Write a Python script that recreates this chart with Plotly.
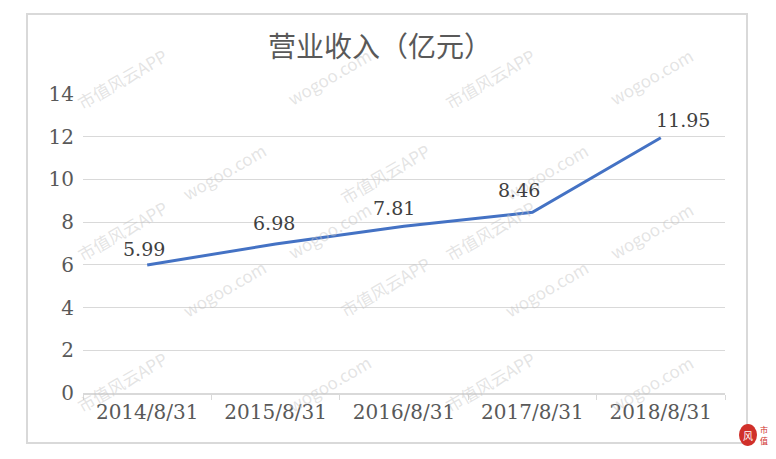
import plotly.graph_objects as go

categories = ["2014/8/31", "2015/8/31", "2016/8/31", "2017/8/31", "2018/8/31"]
revenue = [5.99, 6.98, 7.81, 8.46, 11.95]
label_text = ["5.99", "6.98", "7.81", "8.46", "11.95"]
y_ticks = [0, 2, 4, 6, 8, 10, 12, 14]
title_text = "营业收入（亿元）"
watermarks = ["市值风云APP", "wogoo.com"]

# label offsets (style)
xshift = [-3, -2, -10, -13, 22]
yshift = [16, 21, 18, 22, 18]

W, H = 776, 459
L, R, T, B = 83, 51, 94, 66
PW, PH = W - L - R, H - T - B


def px(x):
    return (x - L) / PW


def py(y):
    return (H - B - y) / PH


fig = go.Figure()
fig.add_trace(go.Scatter(
    x=categories, y=revenue, mode="lines",
    line=dict(color="#4472C4", width=3), hoverinfo="skip", showlegend=False,
))

ann = []

# watermarks (light, tiled, rotated)
for j, yy in enumerate(range(40, 450, 95)):
    for i, xx in enumerate(range(70, 760, 210)):
        off = 105 if j % 2 else 0
        cx = xx + off
        if cx > 715:
            continue
        txt = watermarks[(i + j) % 2]
        ann.append(dict(x=px(cx), y=py(yy), xref="paper", yref="paper",
                        text=txt, showarrow=False, textangle=-30,
                        font=dict(family="Noto Sans CJK SC", size=17, color="rgba(195,195,195,0.45)")))

for c, v, t, dx, dy in zip(categories, revenue, label_text, xshift, yshift):
    ann.append(dict(x=c, y=v, xref="x", yref="y", text=t, showarrow=False,
                    xshift=dx, yshift=dy,
                    font=dict(family="DejaVu Serif", size=19, color="#404040")))

# title
ann.append(dict(x=px(380), y=py(45), xref="paper", yref="paper", text=title_text,
                showarrow=False, xanchor="center", yanchor="middle",
                font=dict(family="Noto Sans CJK SC", size=28, color="#595959")))

# logo
ann.append(dict(x=px(764), y=py(429), xref="paper", yref="paper", text="市",
                showarrow=False, xanchor="center", yanchor="middle", borderpad=0,
                font=dict(family="Noto Sans CJK SC", size=8, color="#d0302a")))
ann.append(dict(x=px(764), y=py(441), xref="paper", yref="paper", text="值",
                showarrow=False, xanchor="center", yanchor="middle", borderpad=0,
                font=dict(family="Noto Sans CJK SC", size=8, color="#d0302a")))
ann.append(dict(x=px(748), y=py(435), xref="paper", yref="paper", text="风",
                showarrow=False, xanchor="center", yanchor="middle",
                font=dict(family="Noto Sans CJK SC", size=10, color="white")))

shapes = [
    dict(type="rect", xref="paper", yref="paper", x0=px(27), x1=px(747), y0=py(443), y1=py(14),
         line=dict(color="#d9d9d9", width=2), layer="below"),
    dict(type="circle", xref="paper", yref="paper", x0=px(739), x1=px(757), y0=py(446), y1=py(424),
         line=dict(width=0), fillcolor="#d0302a"),
]

fig.update_layout(
    width=W, height=H,
    margin=dict(l=L, r=R, t=T, b=B),
    paper_bgcolor="white", plot_bgcolor="white",
    annotations=ann, shapes=shapes,
    xaxis=dict(type="category", showgrid=False, showline=True, linecolor="#d9d9d9", linewidth=1.5,
               ticks="outside", ticklen=5, tickcolor="#d9d9d9", tickson="boundaries",
               tickfont=dict(family="DejaVu Serif", size=20, color="#595959"),
               range=[-0.5, 4.5], fixedrange=True),
    yaxis=dict(range=[0, 14], tickvals=y_ticks, showgrid=True, gridcolor="#d9d9d9", gridwidth=1,
               zeroline=False, showline=False, ticks="", ticklabelstandoff=8,
               tickfont=dict(family="DejaVu Serif", size=20, color="#595959"), fixedrange=True),
)

fig.write_html("out.html")
